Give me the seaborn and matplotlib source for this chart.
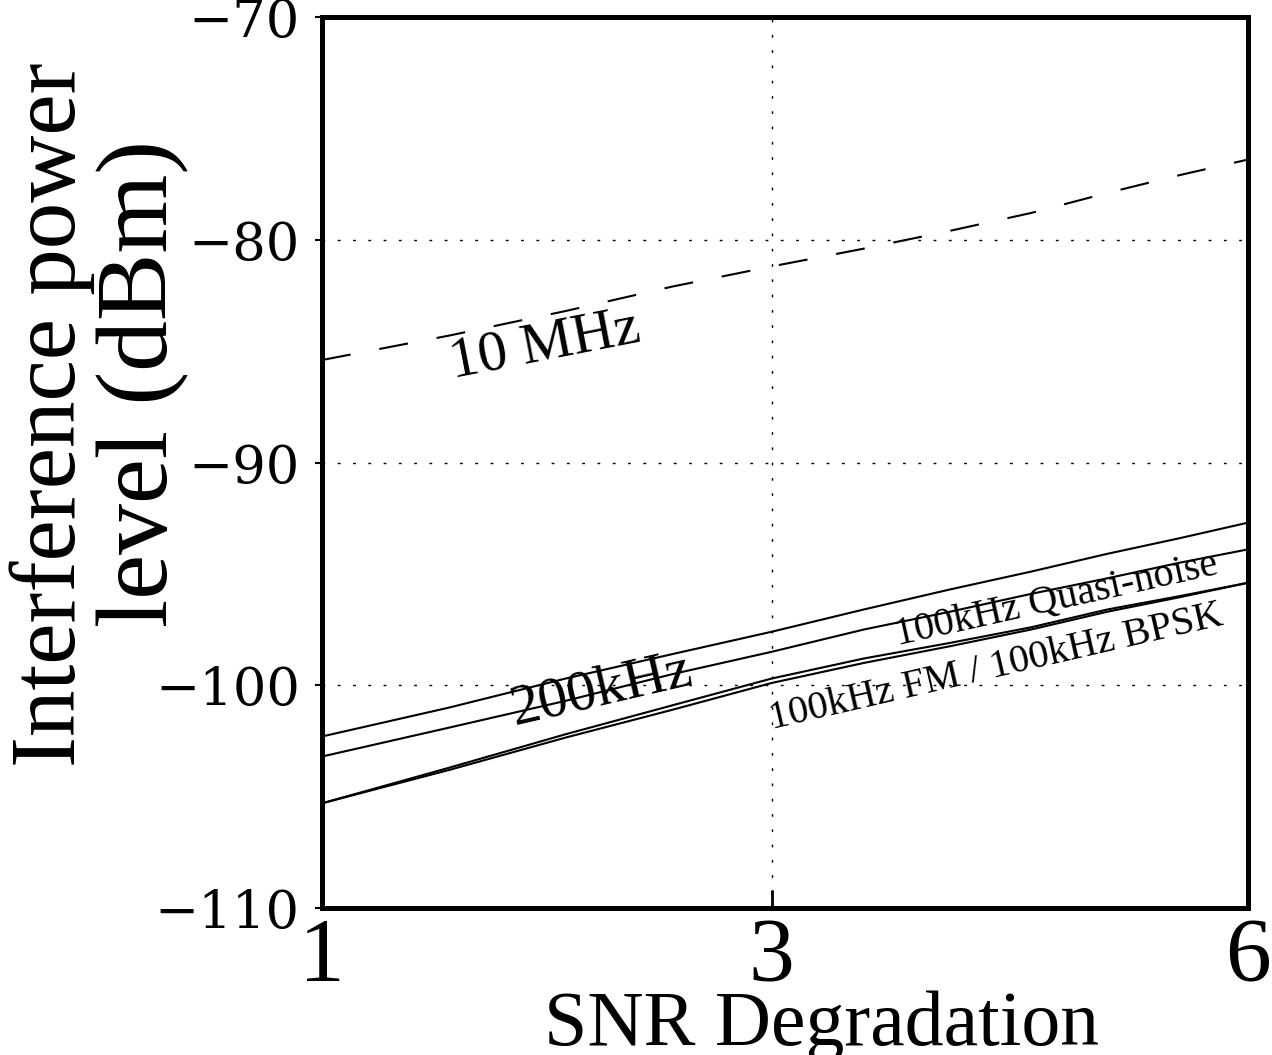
import numpy as np
import pandas as pd
import matplotlib
matplotlib.use("Agg")
import matplotlib.pyplot as plt
import seaborn as sns

# ---- data ----
snr_degradation = [1.0, 1.5, 2.0, 2.5, 3.0, 3.5, 4.0, 4.5, 5.0, 5.5, 6.0]
p_10mhz = [-85.4, -84.3, -83.2, -82.1, -81.2, -80.4, -79.6, -78.8, -77.9, -77.1, -76.4]
p_200khz = [-102.3, -101.0, -99.7, -98.6, -97.6, -96.6, -95.7, -94.9, -94.1, -93.4, -92.7]
p_quasi = [-103.2, -101.9, -100.7, -99.5, -98.5, -97.5, -96.7, -95.9, -95.2, -94.5, -93.9]
p_fm = [-105.3, -103.7, -102.2, -100.9, -99.7, -98.8, -98.1, -97.4, -96.6, -96.0, -95.4]
p_bpsk = [-105.3, -103.8, -102.35, -101.1, -99.9, -99.0, -98.25, -97.5, -96.7, -96.05, -95.4]
x_ticks = [1, 3, 6]
y_ticks = [-110, -100, -90, -80, -70]

sns.set_theme(style="white")
plt.rcParams["font.family"] = ["Liberation Serif", "DejaVu Serif"]

W, H = 1272, 1055
fig = plt.figure(figsize=(W / 100, H / 100), dpi=100)
L, R, T, B = 322, 1248, 17, 908
ax = fig.add_axes([L / W, (H - B) / H, (R - L) / W, (B - T) / H])

series = [
    ("10 MHz", p_10mhz, (0, (14, 14))),
    ("200kHz", p_200khz, "-"),
    ("100kHz Quasi-noise", p_quasi, "-"),
    ("100kHz FM", p_fm, "-"),
    ("100kHz BPSK", p_bpsk, "-"),
]
for name, vals, ls in series:
    df = pd.DataFrame({"snr": snr_degradation, "p": vals})
    sns.lineplot(data=df, x="snr", y="p", ax=ax, color="black",
                 linewidth=1.5, linestyle=ls, estimator=None, sort=False)

ax.set_xscale("function", functions=(lambda x: np.log(x + 4.0),
                                     lambda y: np.exp(y) - 4.0))
ax.set_xlim(1, 6)
ax.set_ylim(-110, -70)
ax.set_xticks(x_ticks)
ax.set_xticklabels([str(v) for v in x_ticks], fontsize=66,
                   family=["Liberation Serif"])
ax.set_yticks(y_ticks)
ax.set_yticklabels(["\u2212" + str(abs(v)) for v in y_ticks], fontsize=38,
                   family=["DejaVu Serif"])
ax.minorticks_off()
ax.tick_params(axis="x", direction="in", length=13, width=2, pad=7,
               color="black", labelcolor="black", bottom=True)
ax.tick_params(axis="y", direction="out", length=5, width=1.5, pad=11,
               color="black", labelcolor="black", left=True)
ax.grid(True, color="black", linewidth=1.0, linestyle=(0, (2, 9)))
ax.set_axisbelow(True)
for s in ax.spines.values():
    s.set_visible(True)
    s.set_color("black")
    s.set_linewidth(3.6)
ax.set_xlabel("")
ax.set_ylabel("")

# axis labels
fig.text(822 / W, 10 / H, "SNR Degradation", fontsize=56, ha="center",
         va="baseline", color="black")
fig.text(75 / W, 1 - 415 / H, "Interference power", fontsize=67, rotation=90,
         rotation_mode="anchor", ha="center", va="baseline", color="black")
fig.text(167 / W, 1 - 383 / H, "level (dBm)", fontsize=73, rotation=90,
         rotation_mode="anchor", ha="center", va="baseline", color="black")

# curve annotations
ax.text(0.241, 0.632, "10 MHz", transform=ax.transAxes, fontsize=42,
        rotation=11, ha="center", va="center", color="black")
ax.text(0.302, 0.2447, "200kHz", transform=ax.transAxes, fontsize=42,
        rotation=13, ha="center", va="center", color="black")
ax.text(0.7937, 0.3457, "100kHz Quasi-noise", transform=ax.transAxes,
        fontsize=29, rotation=12.5, ha="center", va="center", color="black")
ax.text(0.7279, 0.2694, "100kHz FM / 100kHz BPSK", transform=ax.transAxes,
        fontsize=29, rotation=13, ha="center", va="center", color="black")

fig.savefig("out.png", dpi=100, facecolor="white")
